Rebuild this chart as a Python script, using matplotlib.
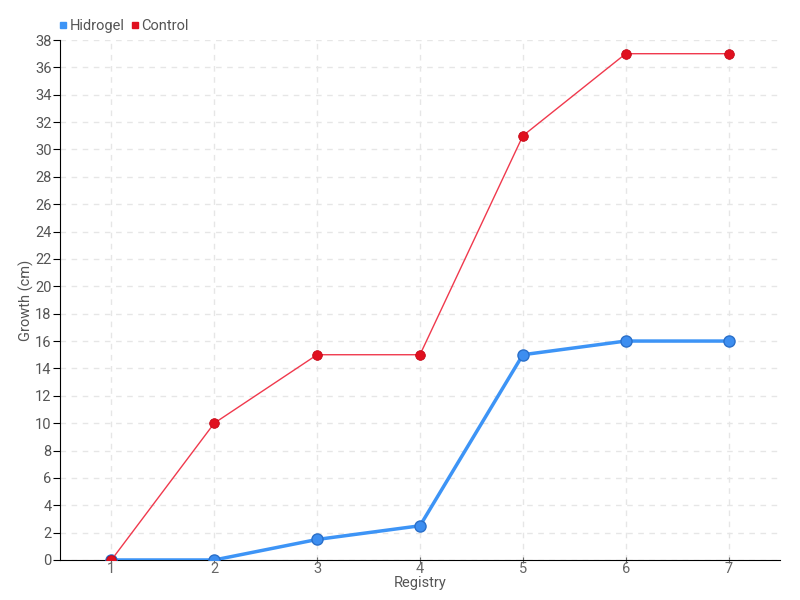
import matplotlib
matplotlib.use("Agg")
import matplotlib.pyplot as plt
from matplotlib.lines import Line2D

registry = [1, 2, 3, 4, 5, 6, 7]
hidrogel = [0, 0, 1.5, 2.5, 15, 16, 16]
control = [0, 10, 15, 15, 31, 37, 37]
y_ticks = list(range(0, 39, 2))

plt.rcParams['font.family'] = ['Roboto', 'DejaVu Sans']
text_color = '#555555'

fig = plt.figure(figsize=(8, 6), dpi=100)
ax = fig.add_axes([0.075, 0.0667, 0.9, 0.8666])

ax.plot(registry, hidrogel, color='#3d94f6', lw=2.5, marker='o', ms=8,
        mfc='#3d8ef0', mec='#2a6fc9', mew=1, zorder=3)
ax.plot(registry, control, color='#f0394d', lw=1, marker='o', ms=7,
        mfc='#e0101f', mec='#c00010', mew=0.5, zorder=4)

ax.set_xlim(0.5, 7.5)
ax.set_ylim(0, 38)
ax.set_xticks(registry)
ax.set_yticks(y_ticks)
ax.tick_params(colors='black', labelcolor=text_color, labelsize=10.5, length=5)
ax.tick_params(axis='x', direction='inout', pad=-1, colors='#666666')
ax.tick_params(axis='y', pad=1)
ax.grid(True, color='#e6e6e6', ls=(0, (4, 4)), lw=1)
ax.set_axisbelow(True)
for s in ['top', 'right']:
    ax.spines[s].set_visible(False)

ax.set_xlabel('Registry', color=text_color, fontsize=10.5, labelpad=0)
ax.set_ylabel('Growth (cm)', color=text_color, fontsize=10.5, labelpad=1)

handles = [
    Line2D([], [], ls='none', marker='s', ms=4.5, color='#3d94f6'),
    Line2D([], [], ls='none', marker='s', ms=4.5, color='#e0101f'),
]
fig.legend(handles, ['Hidrogel', 'Control'], loc='upper left',
           bbox_to_anchor=(0.055, 0.99), ncol=2, frameon=False,
           fontsize=10.5, handletextpad=0.05, columnspacing=0.3,
           labelcolor=text_color, handlelength=0.8)

fig.savefig('out.png', dpi=100)
